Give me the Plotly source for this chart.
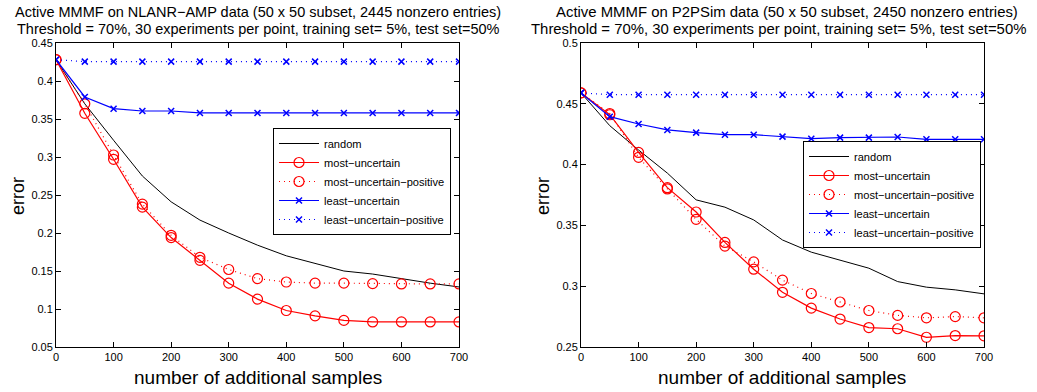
import plotly.graph_objects as go

samples = [0, 50, 100, 150, 200, 250, 300, 350, 400, 450, 500, 550, 600, 650, 700]

# Left: NLANR-AMP
l_random = [0.428, 0.370, 0.322, 0.275, 0.241, 0.217, 0.200, 0.184, 0.170, 0.160, 0.150, 0.146, 0.140, 0.134, 0.129]
l_most = [0.428, 0.3575, 0.297, 0.234, 0.194, 0.164, 0.134, 0.113, 0.098, 0.091, 0.085, 0.083, 0.083, 0.083, 0.083]
l_most_pos = [0.428, 0.370, 0.3026, 0.238, 0.197, 0.168, 0.152, 0.140, 0.1355, 0.134, 0.134, 0.1334, 0.133, 0.133, 0.133]
l_least = [0.428, 0.379, 0.3636, 0.3605, 0.3605, 0.358, 0.358, 0.358, 0.358, 0.358, 0.358, 0.358, 0.358, 0.358, 0.358]
l_least_pos = [0.428, 0.4255, 0.4255, 0.4255, 0.4255, 0.4255, 0.4255, 0.4255, 0.4255, 0.4255, 0.4255, 0.4255, 0.4255, 0.4255, 0.4255]

# Right: P2PSim
r_random = [0.459, 0.432, 0.412, 0.393, 0.371, 0.365, 0.3545, 0.338, 0.328, 0.3216, 0.3148, 0.3038, 0.2992, 0.297, 0.2937]
r_most = [0.459, 0.441, 0.410, 0.381, 0.361, 0.336, 0.314, 0.295, 0.282, 0.273, 0.266, 0.265, 0.258, 0.2594, 0.2592]
r_most_pos = [0.459, 0.442, 0.406, 0.380, 0.355, 0.333, 0.320, 0.305, 0.294, 0.287, 0.280, 0.276, 0.274, 0.275, 0.274]
r_least = [0.459, 0.4394, 0.4334, 0.4285, 0.4263, 0.4246, 0.4246, 0.423, 0.4213, 0.4222, 0.4222, 0.4227, 0.4208, 0.4208, 0.4208]
r_least_pos = [0.459, 0.4575, 0.4575, 0.4575, 0.4575, 0.4575, 0.4575, 0.4575, 0.4575, 0.4575, 0.4575, 0.4575, 0.4575, 0.4575, 0.4575]

names = ["random", "most\u2212uncertain", "most\u2212uncertain\u2212positive",
         "least\u2212uncertain", "least\u2212uncertain\u2212positive"]

left_title = ["Active MMMF on NLANR\u2212AMP data (50 x 50 subset, 2445 nonzero entries)",
              "Threshold = 70%, 30 experiments per point, training set= 5%, test set=50%"]
right_title = ["Active MMMF on P2PSim data (50 x 50 subset, 2450 nonzero entries)",
               "Threshold = 70%, 30 experiments per point, training set= 5%, test set=50%"]

FONT = "Liberation Sans, Arial, Helvetica, sans-serif"
W, H = 1037, 392

fig = go.Figure()

DOT = "1px,4px"
styles = [
    dict(line=dict(color="black", width=1), mode="lines", marker=None),
    dict(line=dict(color="red", width=1.2), mode="lines+markers",
         marker=dict(symbol="circle-open", size=10, color="red", line=dict(width=1.2))),
    dict(line=dict(color="red", width=1.2, dash=DOT), mode="lines+markers",
         marker=dict(symbol="circle-open", size=10, color="red", line=dict(width=1.2))),
    dict(line=dict(color="blue", width=1.2), mode="lines+markers",
         marker=dict(symbol="x-thin-open", size=6, color="blue", line=dict(width=1.5, color="blue"))),
    dict(line=dict(color="blue", width=1.2, dash=DOT), mode="lines+markers",
         marker=dict(symbol="x-thin-open", size=6, color="blue", line=dict(width=1.5, color="blue"))),
]

panels = [
    ([l_random, l_most, l_most_pos, l_least, l_least_pos], "x", "y", "legend"),
    ([r_random, r_most, r_most_pos, r_least, r_least_pos], "x2", "y2", "legend2"),
]

for series, xa, ya, lg in panels:
    for name, vals, st in zip(names, series, styles):
        kw = dict(x=samples, y=vals, name=name, mode=st["mode"], line=st["line"],
                  xaxis=xa, yaxis=ya, legend=lg, showlegend=True)
        if st["marker"] is not None:
            kw["marker"] = st["marker"]
        fig.add_trace(go.Scatter(**kw))

def px_x(p):
    return p / W

def px_y(p):
    return 1 - p / H

ydom = [px_y(347), px_y(43)]
axis_common = dict(showgrid=False, zeroline=False, showline=True, linecolor="black",
                   linewidth=1, mirror="allticks", ticks="inside", ticklen=5,
                   tickcolor="black", automargin=False,
                   tickfont=dict(family=FONT, size=11, color="black"))

legend_common = dict(xanchor="left", yanchor="top",
                     bgcolor="white", bordercolor="black", borderwidth=1,
                     font=dict(family=FONT, size=11.1, color="black"), itemwidth=40,
                     tracegroupgap=0)

fig.update_layout(
    width=W, height=H,
    margin=dict(l=0, r=0, t=0, b=0),
    paper_bgcolor="white", plot_bgcolor="white",
    showlegend=True,
    xaxis=dict(domain=[px_x(56), px_x(459)], range=[0, 700], dtick=100, anchor="y", **axis_common),
    yaxis=dict(domain=ydom, range=[0.05, 0.45], dtick=0.05, anchor="x", **axis_common),
    xaxis2=dict(domain=[px_x(581), px_x(984)], range=[0, 700], dtick=100, anchor="y2", **axis_common),
    yaxis2=dict(domain=ydom, range=[0.25, 0.5], dtick=0.05, anchor="x2", **axis_common),
    legend=dict(x=px_x(273), y=px_y(128), **legend_common),
    legend2=dict(x=px_x(803), y=px_y(141), **legend_common),
)

title_specs = [
    (left_title[0], 258, 12, 14.5),
    (left_title[1], 258, 28.5, 14.5),
    (right_title[0], 787, 12.5, 14.9),
    (right_title[1], 778, 29.5, 14.9),
]
for t, cx, cy, fs in title_specs:
    fig.add_annotation(x=px_x(cx), y=px_y(cy), xref="paper", yref="paper", xanchor="center", yanchor="middle",
                       text=t, showarrow=False,
                       font=dict(family=FONT, size=fs, color="black"))

for cx in [258, 782]:
    fig.add_annotation(x=px_x(cx), y=px_y(377), xref="paper", yref="paper", xanchor="center", yanchor="middle",
                       text="number of additional samples", showarrow=False,
                       font=dict(family=FONT, size=19, color="black"))

for cx in [18, 543]:
    fig.add_annotation(x=px_x(cx), y=px_y(196), xref="paper", yref="paper", xanchor="center", yanchor="middle",
                       text="error", showarrow=False, textangle=-90,
                       font=dict(family=FONT, size=18, color="black"))

fig.write_html("out.html", config={"displayModeBar": False},
               post_script="document.body.style.margin='0';")
